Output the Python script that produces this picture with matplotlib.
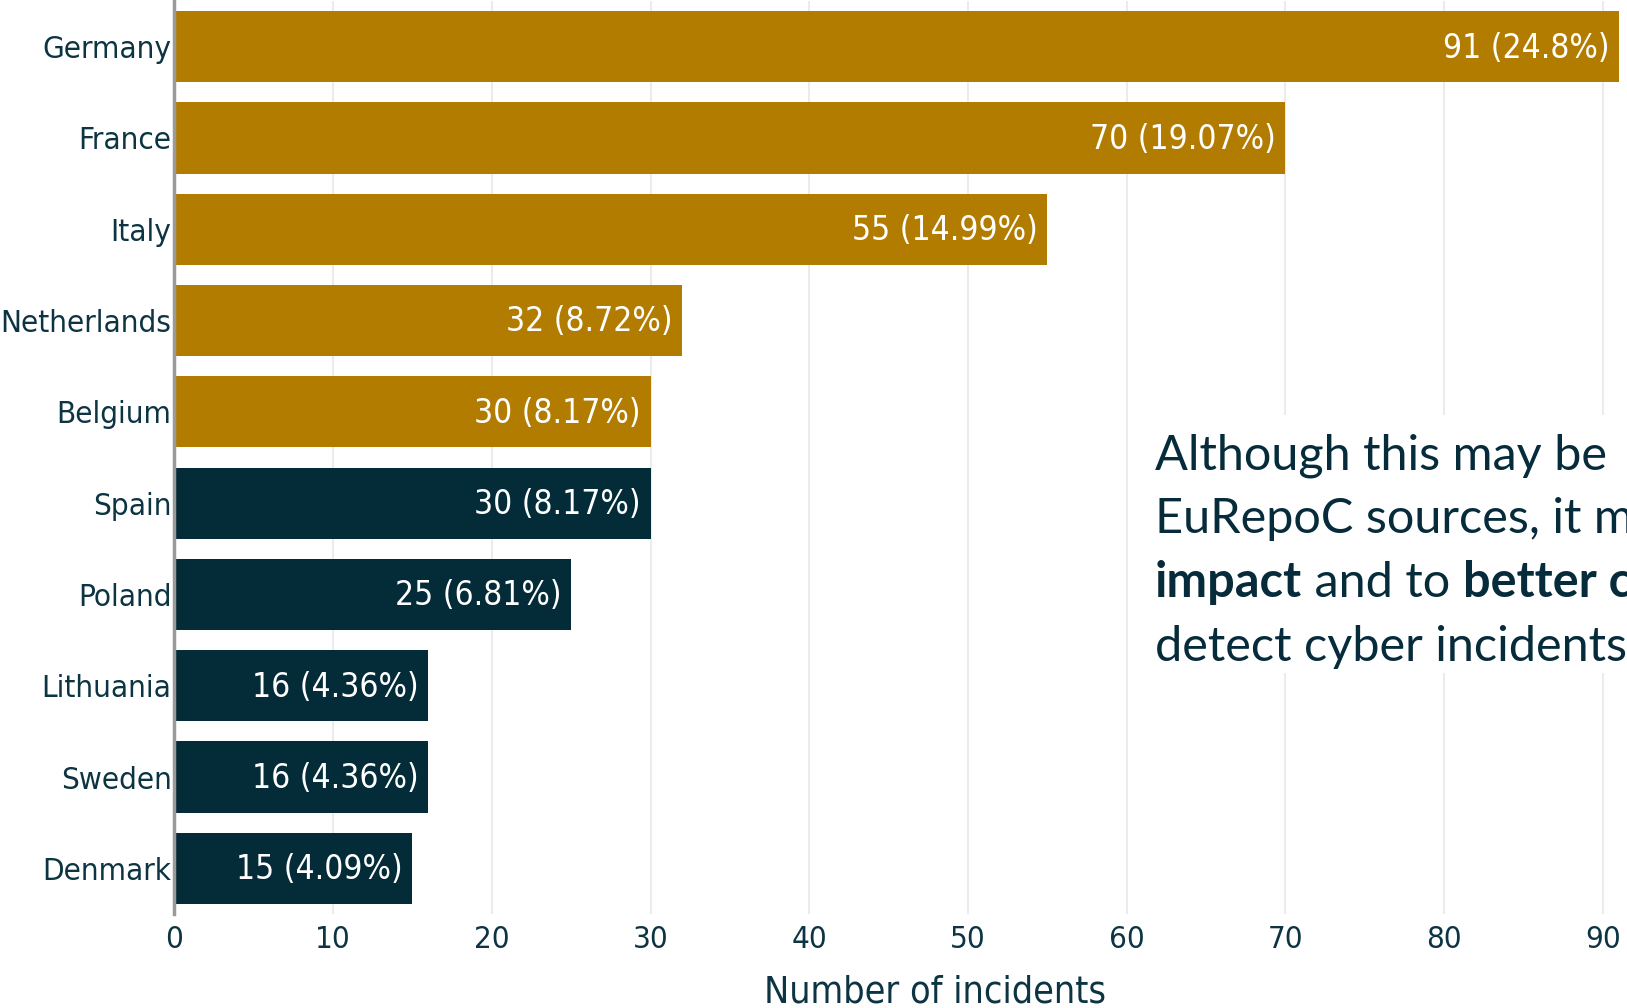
import matplotlib
matplotlib.use('Agg')
import matplotlib.pyplot as plt
from matplotlib.patches import Rectangle

countries = ['Germany', 'France', 'Italy', 'Netherlands', 'Belgium',
             'Spain', 'Poland', 'Lithuania', 'Sweden', 'Denmark']
incidents = [91, 70, 55, 32, 30, 30, 25, 16, 16, 15]
shares = ['24.8%', '19.07%', '14.99%', '8.72%', '8.17%',
          '8.17%', '6.81%', '4.36%', '4.36%', '4.09%']
highlighted = ['Germany', 'France', 'Italy', 'Netherlands', 'Belgium']
xticks = [0, 10, 20, 30, 40, 50, 60, 70, 80, 90]

# note is cropped by the right edge in the source picture
note_lines = [
    [('Although this may be', 'normal')],
    [('EuRepoC sources, it m', 'normal')],
    [('impact', 'bold'), (' and to ', 'normal'), ('better c', 'bold')],
    [('detect cyber incidents', 'normal')],
]

GOLD = '#b27c00'
NAVY = '#032b38'
TXT = '#0c3442'

W, H = 1627, 1008
fig = plt.figure(figsize=(W / 100, H / 100), dpi=100)
fig.patch.set_facecolor('white')

# plot area runs past the right edge (chart was cropped)
left, right, top, bottom = 174.3, 1695, 1, 914
ax = fig.add_axes([left / W, 1 - bottom / H, (right - left) / W, (bottom - top) / H])

ypos = list(range(len(countries)))
colors = [GOLD if c in highlighted else NAVY for c in countries]
ax.barh(ypos, incidents, height=0.78, color=colors, zorder=2)
ax.set_ylim(len(countries) - 0.5, -0.5)
ax.set_xlim(0, 95.8)

for y, v, s in zip(ypos, incidents, shares):
    ax.annotate('{0} ({1})'.format(v, s), xy=(v, y), xytext=(-7, -1),
                textcoords='offset points', ha='right', va='center',
                color='white', fontsize=24, fontstretch='condensed',
                zorder=3)

ax.set_yticks(ypos)
ax.set_yticklabels(countries)
ax.set_xticks(xticks)
ax.tick_params(axis='both', length=0, labelsize=22.5, colors=TXT)
ax.tick_params(axis='y', pad=2)
ax.tick_params(axis='x', pad=8)
for lab in ax.get_xticklabels() + ax.get_yticklabels():
    lab.set_fontstretch('condensed')

ax.set_axisbelow(True)
ax.xaxis.grid(True, color='#ebebeb', lw=1.5, zorder=0)
for side in ['top', 'right', 'bottom']:
    ax.spines[side].set_visible(False)
ax.spines['left'].set_color('#9a9a9a')
ax.spines['left'].set_linewidth(2.5)
ax.spines['left'].set_zorder(4)

ax.set_xlabel('Number of incidents', fontsize=27, color=TXT,
              fontstretch='condensed', labelpad=15)

# white note box over the gridlines
fig.add_artist(Rectangle((1140 / W, 1 - 673 / H), (W - 1140) / W, (673 - 415) / H,
                         transform=fig.transFigure, facecolor='white',
                         edgecolor='none', zorder=5))

renderer = fig.canvas.get_renderer()
x0 = 1155
baselines = [469, 533, 597, 661]
for parts, yb in zip(note_lines, baselines):
    x = x0
    for s, w in parts:
        t = fig.text(x / W, 1 - yb / H, s, fontsize=35, fontfamily='Lato',
                     fontweight=w, color='#062b3a', va='baseline', ha='left',
                     zorder=6)
        bb = t.get_window_extent(renderer)
        x = bb.x1

fig.savefig('out.png', dpi=100)
